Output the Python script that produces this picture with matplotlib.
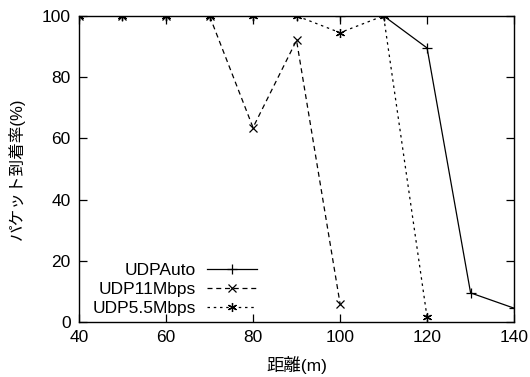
import matplotlib.pyplot as plt

# distance (m)
dist = [40, 50, 60, 70, 80, 90, 100, 110, 120, 130, 140]
auto = [100, 100, 100, 100, 100, 100, 100, 100, 89.5, 9.5, 4.5]
dist11 = [40, 50, 60, 70, 80, 90, 100]
udp11 = [100, 100, 100, 100, 63.5, 92, 6]
dist55 = [40, 50, 60, 70, 80, 90, 100, 110, 120]
udp55 = [100, 100, 100, 100, 100, 100, 94.5, 100, 1.5]

plt.rcParams['font.family'] = ['Liberation Sans', 'Noto Sans CJK JP']

fig = plt.figure(figsize=(5.3, 3.77), dpi=100)
ax = fig.add_axes([0.149, 0.146, 0.821, 0.812])

ax.plot(dist, auto, '-', color='black', lw=0.9, marker='+', ms=6.5, mew=0.9, label='UDPAuto')
ax.plot(dist11, udp11, '--', color='black', lw=0.9, marker='x', ms=5.5, mew=0.9,
        dashes=(4, 3), label='UDP11Mbps')
ax.plot(dist55, udp55, ':', color='black', lw=0.9, marker=(6, 2, 0), ms=6.5, mew=0.9,
        dashes=(2, 3), label='UDP5.5Mbps')

ax.set_xlim(40, 140)
ax.set_ylim(0, 100)
ax.set_xticks([40, 60, 80, 100, 120, 140])
ax.set_yticks([0, 20, 40, 60, 80, 100])
ax.tick_params(direction='in', length=6, width=0.9, top=True, right=True, labelsize=12.5, pad=6)
for s in ax.spines.values():
    s.set_linewidth(1.0)

ax.set_xlabel('距離(m)', fontsize=12.5, labelpad=8)
ax.set_ylabel('パケット到着率(%)', fontsize=12, labelpad=12)

ax.legend(loc='lower left', bbox_to_anchor=(0.0, -0.025), frameon=False, markerfirst=False,
          fontsize=12.5, handlelength=2.9, labelspacing=0.21, handletextpad=0.6,
          borderaxespad=0.4)

fig.savefig('out.png', dpi=100)
